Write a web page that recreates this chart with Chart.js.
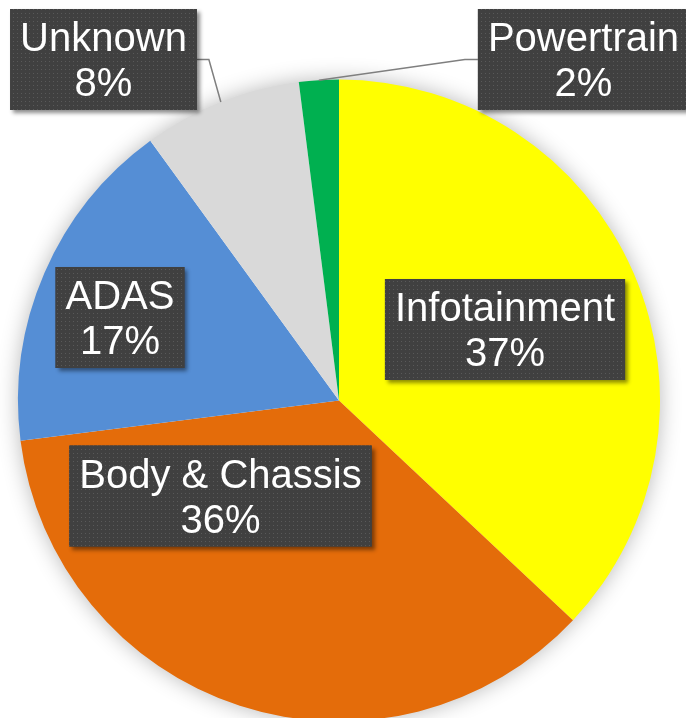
<!DOCTYPE html>
<html>
<head>
<meta charset="utf-8">
<script src="https://cdn.jsdelivr.net/npm/chart.js@4.4.1/dist/chart.umd.min.js"></script>
<style>
    html, body { margin: 0; padding: 0; background: #ffffff; overflow: hidden; }
    #wrap { width: 686px; height: 718px; overflow: hidden; }
    canvas { display: block; }
</style>
</head>
<body>
<div id="wrap"><canvas id="domainPie" width="686" height="722"></canvas></div>
<script>
const categories = ['Infotainment', 'Body & Chassis', 'ADAS', 'Unknown', 'Powertrain'];
const shares = [37, 36, 17, 8, 2];
const sliceColors = ['#FFFF00', '#E46C0A', '#558ED5', '#D9D9D9', '#00B050'];

// where each label box sits (centre), and whether it gets a leader line
const labelCenters = [[505, 329.5], [220.5, 496], [120, 317.5], [103.5, 59.5], [583.5, 59.5]];
const leaderSide = [null, null, null, 'right', 'left'];

function dotPattern(ctx) {
    const c = document.createElement('canvas');
    c.width = 4; c.height = 4;
    const p = c.getContext('2d');
    p.fillStyle = '#404040';
    p.fillRect(0, 0, 4, 4);
    p.fillStyle = '#595959';
    p.fillRect(1, 1, 1, 1);
    return ctx.createPattern(c, 'repeat');
}

const pieShadow = {
    id: 'pieShadow',
    beforeDatasetsDraw(chart) {
        const arc = chart.getDatasetMeta(0).data[0];
        if (!arc) return;
        const ctx = chart.ctx;
        ctx.save();
        ctx.shadowColor = 'rgba(0,0,0,0.30)';
        ctx.shadowBlur = 22;
        ctx.fillStyle = '#ffffff';
        ctx.beginPath();
        ctx.arc(arc.x, arc.y, arc.outerRadius - 1, 0, Math.PI * 2);
        ctx.fill();
        ctx.restore();
    }
};

const boxLabels = {
    id: 'boxLabels',
    afterDatasetsDraw(chart) {
        const ctx = chart.ctx;
        const meta = chart.getDatasetMeta(0);
        const pattern = dotPattern(ctx);
        ctx.save();
        ctx.font = '40px "Liberation Sans", Arial, sans-serif';

        meta.data.forEach((arc, i) => {
            const [cx, cy] = labelCenters[i];
            const line1 = categories[i];
            const line2 = shares[i] + '%';
            const w = Math.max(ctx.measureText(line1).width, ctx.measureText(line2).width) + 20;
            const h = 101;
            const left = cx - w / 2, top = cy - h / 2;

            if (leaderSide[i]) {
                const mid = (arc.startAngle + arc.endAngle) / 2;
                const ex = arc.x + arc.outerRadius * Math.cos(mid);
                const ey = arc.y + arc.outerRadius * Math.sin(mid);
                const bx = leaderSide[i] === 'right' ? left + w : left;
                const kx = leaderSide[i] === 'right' ? bx + 12 : bx - 13;
                ctx.strokeStyle = '#7f7f7f';
                ctx.lineWidth = 1.5;
                ctx.beginPath();
                ctx.moveTo(bx, cy);
                ctx.lineTo(kx, cy);
                ctx.lineTo(ex, ey);
                ctx.stroke();
            }

            ctx.save();
            ctx.shadowColor = 'rgba(0,0,0,0.45)';
            ctx.shadowBlur = 4;
            ctx.shadowOffsetX = 3;
            ctx.shadowOffsetY = 3;
            ctx.fillStyle = '#404040';
            ctx.fillRect(left, top, w, h);
            ctx.restore();
            ctx.fillStyle = pattern;
            ctx.fillRect(left, top, w, h);

            ctx.fillStyle = '#ffffff';
            ctx.textAlign = 'center';
            ctx.textBaseline = 'alphabetic';
            ctx.fillText(line1, cx, cy - 8.5);
            ctx.fillText(line2, cx, cy + 36.5);
        });
        ctx.restore();
    }
};

new Chart(document.getElementById('domainPie').getContext('2d'), {
    type: 'pie',
    data: {
        labels: categories,
        datasets: [{
            data: shares,
            backgroundColor: sliceColors,
            borderWidth: 0,
            hoverOffset: 0,
            offset: 0
        }]
    },
    options: {
        responsive: false,
        devicePixelRatio: 1,
        animation: false,
        layout: { padding: { left: 18, right: 26, top: 79, bottom: 0 } },
        plugins: {
            legend: { display: false },
            tooltip: { enabled: false }
        },
        events: []
    },
    plugins: [pieShadow, boxLabels]
});
</script>
</body>
</html>
